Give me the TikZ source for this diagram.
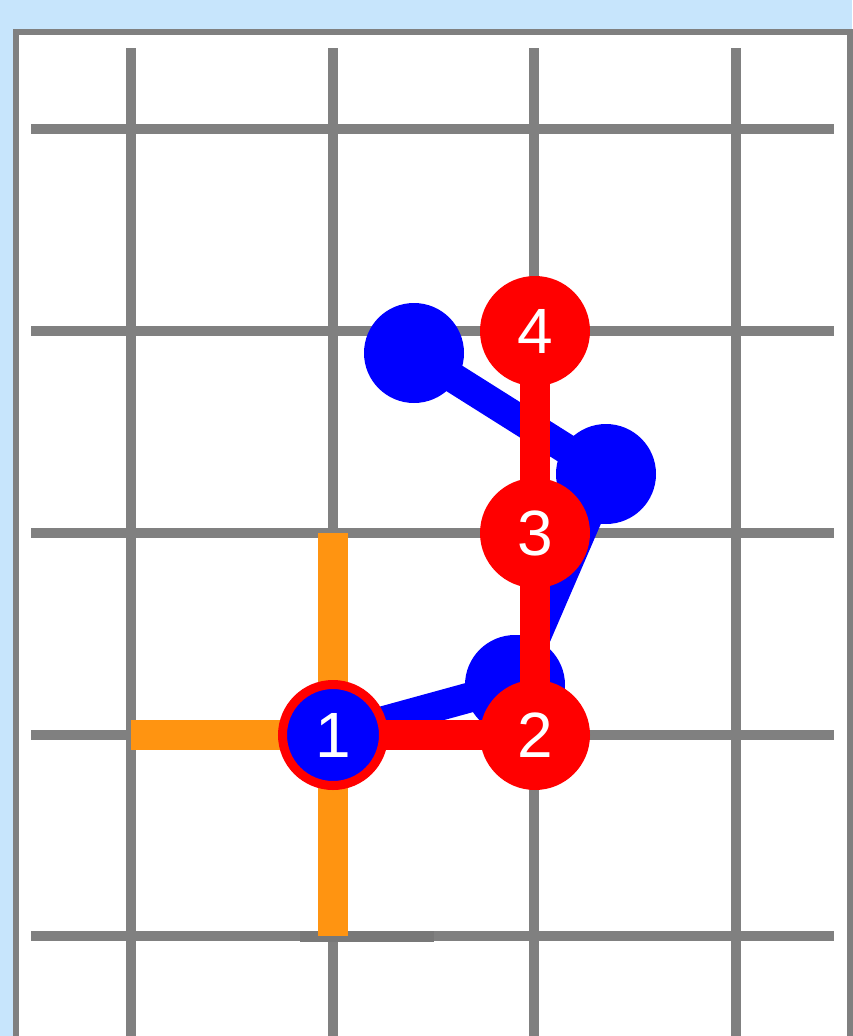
\documentclass[tikz,border=0pt]{standalone}
\usepackage{fontspec}
\setmainfont{Liberation Sans}
\definecolor{bgblue}{HTML}{C7E5FC}
\definecolor{gridgray}{HTML}{808080}
\definecolor{orng}{HTML}{FF9411}
\definecolor{pblue}{HTML}{0000FF}
\definecolor{pred}{HTML}{FF0000}
\tikzset{
  gridline/.style={draw=gridgray, line width=10pt},
  crossarm/.style={draw=orng, line width=30pt},
  bluebond/.style={draw=pblue, line width=30pt},
  redbond/.style={draw=pred, line width=30pt},
  blueball/.style={circle, fill=pblue, minimum size=100pt, inner sep=0pt},
  redball/.style={circle, fill=pred, minimum size=110pt, inner sep=0pt, text=white, font=\fontsize{64}{64}\selectfont},
  rootball/.style={circle, fill=pblue, draw=pred, line width=9pt, minimum size=101pt, inner sep=0pt, text=white, font=\fontsize{64}{64}\selectfont},
}
\begin{document}
\begin{tikzpicture}[x=1pt,y=-1pt]
\useasboundingbox (0,0) rectangle (852,1036);
\fill[bgblue] (0,0) rectangle (852,1036);
\draw[gridgray, line width=6pt, fill=white] (16,32) rectangle (850,1060);
% grid
\foreach \gx in {131,333,534,736} \draw[gridline] (\gx,48) -- (\gx,1045);
\foreach \gy in {129,331,533,735,936} \draw[gridline] (31,\gy) -- (834,\gy);
\draw[draw=gridgray!94!black, line width=11pt] (300,936) -- (434,936);
% coordinates
\coordinate (p1) at (333,735);
\coordinate (p2) at (535,735);
\coordinate (p3) at (535,533);
\coordinate (p4) at (535,331);
\coordinate (ba) at (414,353);
\coordinate (bb) at (606,474);
\coordinate (bc) at (515,685);
\coordinate (oT) at (333,533);
\coordinate (oB) at (333,936);
\coordinate (oL) at (131,735);
% orange cross
\draw[crossarm] (oT) -- (oB);
\draw[crossarm] (oL) -- (p1);
% blue chain
\draw[bluebond] (p1) -- (bc) -- (bb) -- (ba);
\node[blueball] (nba) at (ba) {};
\node[blueball] (nbb) at (bb) {};
\node[blueball] (nbc) at (bc) {};
% red chain
\draw[redbond] (p1) -- (p2) -- (p3) -- (p4);
\node[redball] (n2) at (p2) {2};
\node[redball] (n3) at (p3) {3};
\node[redball] (n4) at (p4) {4};
\node[rootball] (n1) at (p1) {1};
\end{tikzpicture}
\end{document}
